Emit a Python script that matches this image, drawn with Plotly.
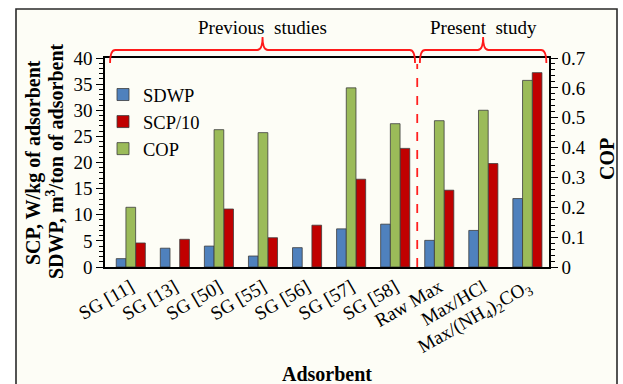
import plotly.graph_objects as go

# Adsorbent categories and measured performance
categories = ["SG [11]", "SG [13]", "SG [50]", "SG [55]", "SG [56]", "SG [57]", "SG [58]",
              "Raw Max", "Max/HCl", "Max/(NH<sub>4</sub>)<sub>2</sub>CO<sub>3</sub>"]
sdwp = [1.6, 3.6, 4.0, 2.1, 3.7, 7.3, 8.2, 5.1, 7.0, 13.1]          # m3/ton of adsorbent
scp_10 = [4.6, 5.3, 11.1, 5.6, 8.0, 16.8, 22.7, 14.7, 19.8, 37.2]   # SCP / 10, W/kg
cop = [0.20, None, 0.46, 0.45, None, 0.60, 0.48, 0.49, 0.525, 0.625]

left_ticks = [0, 5, 10, 15, 20, 25, 30, 35, 40]
right_ticks = [0, 0.1, 0.2, 0.3, 0.4, 0.5, 0.6, 0.7]

xpos = list(range(len(categories)))

FONT = "Liberation Serif, Times New Roman, serif"
BLUE, RED, GREEN = "#4f81bd", "#c00000", "#9bbb59"
EDGE = dict(color="#3c3c3c", width=0.8)
BW = 0.22

fig = go.Figure()
fig.add_trace(go.Bar(x=xpos, y=sdwp, name="SDWP", marker=dict(color=BLUE, line=EDGE),
                     width=BW, offset=-1.5 * BW, yaxis="y"))
fig.add_trace(go.Bar(x=xpos, y=scp_10, name="SCP/10", marker=dict(color=RED, line=EDGE),
                     width=BW, offset=0.5 * BW, yaxis="y"))
fig.add_trace(go.Bar(x=xpos, y=cop, name="COP", marker=dict(color=GREEN, line=EDGE),
                     width=BW, offset=-0.5 * BW, yaxis="y2"))

# plot area in pixels: left 105, right 549, top 58, bottom 267
W, H = 623, 384
L, R, T, B = 105, 549, 58, 267
pw, ph = R - L, B - T


def px(xp):
    return (xp - L) / pw


def py(yp):
    return (B - yp) / ph


shapes = []
# outer frame with cream fill
shapes.append(dict(type="rect", xref="paper", yref="paper", layer="below",
                   x0=px(16), x1=px(617), y0=py(392), y1=py(9),
                   fillcolor="#fdfdf6", line=dict(color="#2a2a2a", width=1.6)))

# separator between earlier work and this work
shapes.append(dict(type="line", xref="x", yref="paper", x0=6.5, x1=6.5, y0=0, y1=py(64),
                   line=dict(color="#ff2020", width=1.8, dash="dash")))


def brace(x0, x1, yh, yend, ypk, c=0.12):
    xm = (x0 + x1) / 2
    path = (f"M {x0},{yend} Q {x0},{yh} {x0 + c},{yh} "
            f"L {xm - c},{yh} Q {xm},{yh} {xm},{ypk} "
            f"Q {xm},{yh} {xm + c},{yh} L {x1 - c},{yh} Q {x1},{yh} {x1},{yend}")
    return dict(type="path", xref="x", yref="paper", path=path,
                line=dict(color="#ff1a1a", width=1.8))


shapes.append(brace(-0.47, 6.45, py(50), py(63), py(37)))
shapes.append(brace(6.56, 9.43, py(50), py(63), py(37)))


def label(text, x, y, xref="paper", angle=0, size=20):
    return dict(text=text, x=x, y=y, xref=xref, yref="paper", xanchor="center",
                yanchor="middle", textangle=angle, showarrow=False,
                font=dict(family=FONT, size=size, color="black"))


annotations = [
    label("Previous  studies", 3.0, py(27), xref="x", size=19),
    label("Present  study", 8.0, py(27), xref="x", size=19),
    label("<b>SCP, W/kg of adsorbent</b>", px(33), py(163), angle=-90),
    label("<b>SDWP, m<sup>3</sup>/ton of adsorbent</b>", px(55), py(161), angle=-90),
    label("<b>COP</b>", px(607), py(159), angle=-90),
    label("<b>Adsorbent</b>", 0.5, py(374)),
]

fig.update_layout(
    width=W, height=H,
    margin=dict(l=L, r=W - R, t=T, b=H - B, pad=0),
    paper_bgcolor="white",
    plot_bgcolor="rgba(0,0,0,0)",
    barmode="overlay",
    font=dict(family=FONT, size=19, color="black"),
    shapes=shapes,
    annotations=annotations,
    showlegend=True,
    legend=dict(x=px(103), y=py(76), xanchor="left", yanchor="top",
                bgcolor="rgba(0,0,0,0)", font=dict(family=FONT, size=18.5),
                itemwidth=30, tracegroupgap=0),
    xaxis=dict(range=[-0.585, 9.49], tickvals=xpos, ticktext=categories, tickangle=-30,
               showline=True, linecolor="black", linewidth=1.5, mirror=True,
               ticks="", showgrid=False, zeroline=False,
               tickfont=dict(family=FONT, size=19, color="black")),
    yaxis=dict(range=[0, 40], tickvals=left_ticks, showline=True, linecolor="black",
               linewidth=1.5, ticks="outside", ticklen=7, tickwidth=1.2, tickcolor="black",
               minor=dict(dtick=1, ticks="outside", ticklen=4, tickcolor="black", tickwidth=1),
               showgrid=False, zeroline=False,
               tickfont=dict(family=FONT, size=19, color="black")),
    yaxis2=dict(range=[0, 0.7], tickvals=right_ticks, overlaying="y", side="right",
                showline=True, linecolor="black", linewidth=1.5, ticks="outside", ticklen=7,
                tickwidth=1.2, tickcolor="black",
                minor=dict(dtick=0.02, ticks="outside", ticklen=4, tickcolor="black",
                           tickwidth=1),
                showgrid=False, zeroline=False,
                tickfont=dict(family=FONT, size=19, color="black")),
)

fig.write_html("out.html")
